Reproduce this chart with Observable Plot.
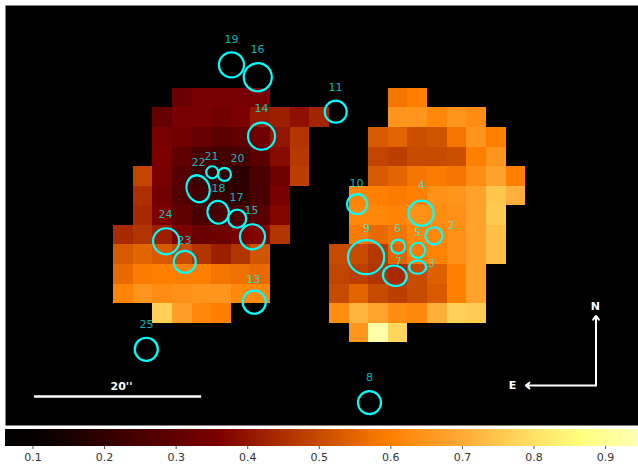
<!DOCTYPE html>
<html>
<head>
<meta charset="utf-8">
<script src="https://cdn.jsdelivr.net/npm/d3@7"></script>
<script src="https://cdn.jsdelivr.net/npm/@observablehq/plot@0.6"></script>
<style>
html,body{margin:0;padding:0;background:#fff;}
svg{display:block;background:#fff;}
</style>
</head>
<body>
<div id="chart"></div>
<script>
// Pixel map: [row, first column, values...]
const cellRuns = [
  [0, 3, [.32,.35,.35,.35,.35]],
  [0, 14, [.58,.60]],
  [1, 2, [.31,.35,.35,.34,.36,.41,.42,.39,.43]],
  [1, 14, [.65,.65,.62,.65,.63]],
  [2, 2, [.35,.34,.31,.29,.30,.33,.40,.46]],
  [2, 13, [.53,.55,.51,.52,.58,.65,.60]],
  [3, 2, [.36,.30,.25,.24,.25,.29,.38,.47]],
  [3, 13, [.49,.48,.50,.50,.51,.60,.65]],
  [4, 1, [.49,.35,.28,.22,.20,.19,.25,.33,.48]],
  [4, 13, [.53,.55,.58,.59,.58,.63,.68,.60]],
  [5, 1, [.45,.34,.27,.24,.21,.20,.25,.35]],
  [5, 12, [.61,.60,.59,.60,.64,.65,.68,.75,.71]],
  [6, 1, [.44,.36,.30,.25,.25,.26,.29,.37]],
  [6, 12, [.62,.62,.61,.64,.63,.64,.68,.76]],
  [7, 0, [.44,.46,.42,.36,.32,.33,.36,.37,.46]],
  [7, 12, [.59,.56,.58,.62,.62,.64,.68,.74]],
  [8, 0, [.53,.55,.53,.50,.46,.42,.46,.52]],
  [8, 11, [.50,.50,.47,.55,.59,.61,.64,.68,.74]],
  [9, 0, [.56,.59,.60,.60,.60,.58,.57,.56]],
  [9, 11, [.49,.48,.46,.44,.50,.54,.60,.68]],
  [10, 0, [.61,.65,.63,.64,.65,.65,.62,.62]],
  [10, 11, [.50,.55,.50,.48,.50,.53,.60,.68]],
  [11, 2, [.77,.67,.62,.60]],
  [11, 11, [.63,.72,.68,.63,.62,.71,.77,.76]],
  [12, 12, [.65,.93,.78]]
];

// Colour map stops
const colorValues = [0.0616, 0.12, 0.36, 0.50, 0.60, 0.70, 0.80, 0.87, 0.9446];
const colorStops = ["#000000","#0a0000","#7d0000","#c64a00","#ff8000","#ffaa37","#ffe164","#ffff80","#ffffb4"];
const barTicks = [0.1,0.2,0.3,0.4,0.5,0.6,0.7,0.8,0.9];

// Apertures (map column, map row, radius in arcsec, axis ratio, tilt in degrees)
const sourceIds = ["19","16","14","11","21","20","22","18","17","15","24","23","13","25","10","4","2","6","5","3","7","9","8"];
const sourceCol = [6.01,7.35,7.54,11.32,5.03,5.65,4.31,5.33,6.30,7.08,2.68,3.63,7.17,1.67,12.41,15.67,16.32,14.50,15.50,15.49,14.33,12.87,13.04];
const sourceRow = [-1.19,-0.56,2.45,1.20,4.29,4.40,5.13,6.33,6.66,7.58,7.81,8.86,10.92,13.32,5.92,6.38,7.53,8.08,8.27,9.13,9.57,8.62,16.04];
const sourceRadius = [1.5,1.68,1.62,1.32,.72,.78,1.5,1.32,1.08,1.5,1.56,1.32,1.38,1.38,1.2,1.5,1.02,.84,.9,.9,1.32,2.1,1.38];
const sourceRatio = [1,1,1,1,1,1,1.1,1.04,1,1,1,1,1,1,1,1,1,1,1,.88,.92,.97,1];
const sourceTilt = [0,0,0,0,0,0,-20,-20,0,0,0,0,0,0,0,0,0,0,0,0,15,0,0];
const labelCol = [6.01,7.34,7.54,11.31,4.99,6.32,4.33,5.35,6.27,7.03,2.65,3.62,7.13,1.68,12.38,15.69,17.22,14.47,15.49,16.2,14.52,12.89,13.04];
const labelRow = [-2.48,-1.97,1.04,-0.04,3.48,3.59,3.79,5.12,5.58,6.24,6.44,7.77,9.76,12.06,4.86,4.96,7.0,7.16,7.36,8.95,8.84,7.16,14.76];

// Annotations
const scaleBar = [{x1:-4.02, x2:4.49, y:15.73}];
const scaleLabel = [{x:.41, y:15.2, text:"20''"}];
const compassArrows = [
  {x1:24.58, y1:15.17, x2:24.58, y2:11.62},
  {x1:24.58, y1:15.17, x2:21.0, y2:15.17}
];
const compassLabels = [
  {x:24.55, y:11.14, text:"N"},
  {x:20.33, y:15.17, text:"E"}
];

const cells = cellRuns.flatMap(([row, start, values]) =>
  values.map((v, i) => ({col: start + i, row, v})));
const sources = sourceIds.map((id, i) => ({
  id, col: sourceCol[i], row: sourceRow[i], radius: sourceRadius[i],
  ratio: sourceRatio[i], tilt: sourceTilt[i],
  labelCol: labelCol[i], labelRow: labelRow[i]
}));

const colorScale = {type:"linear", domain: colorValues, range: colorStops, clamp:true};
const font = "'DejaVu Sans', sans-serif";

// Turn the round dots into the slightly elongated apertures
function stretchDots(index, scales, values, dimensions, context, next) {
  const g = next(index, scales, values, dimensions, context);
  d3.select(g).selectAll("circle").each(function(_, k) {
    const s = sources[index[k]];
    const c = d3.select(this), cx = +c.attr("cx"), cy = +c.attr("cy");
    c.attr("transform", `translate(${cx},${cy}) rotate(${s.tilt}) scale(${1/s.ratio},${s.ratio}) translate(${-cx},${-cy})`);
  });
  return g;
}

const map = Plot.plot({
  width: 638, height: 428,
  marginLeft: 5, marginRight: 0, marginTop: 5, marginBottom: 3,
  style: {fontFamily: font, background: "#fff"},
  x: {domain: [-5.502, 26.745], axis: null},
  y: {domain: [17.21, -4.22], axis: null},
  color: colorScale,
  r: {type:"linear", domain:[0,2], range:[0,16.7]},
  marks: [
    Plot.frame({fill:"#000", stroke:"none"}),
    Plot.rect(cells, {x1:"col", x2:d=>d.col+1, y1:"row", y2:d=>d.row+1, fill:"v", inset:0, shapeRendering:"crispEdges"}),
    Plot.dot(sources, {x:"col", y:"row", r:"radius", fill:"none", stroke:"#00ffff", strokeWidth:2.2, render: stretchDots}),
    Plot.text(sources, {x:"labelCol", y:"labelRow", text:"id", fill:"#00ffff", fillOpacity:.72, fontSize:11}),
    Plot.ruleY(scaleBar, {x1:"x1", x2:"x2", y:"y", stroke:"#fff", strokeWidth:2.5}),
    Plot.text(scaleLabel, {x:"x", y:"y", text:"text", fill:"#fff", fontSize:11, fontWeight:"bold"}),
    Plot.arrow(compassArrows, {x1:"x1", y1:"y1", x2:"x2", y2:"y2", stroke:"#fff", strokeWidth:2, headLength:3.5, headAngle:75, bend:0}),
    Plot.text(compassLabels, {x:"x", y:"y", text:"text", fill:"#fff", fontSize:11, fontWeight:"bold"})
  ]
});

// Colour bar: one narrow rect per step of the same colour scale
const barMin = colorValues[0], barMax = colorValues[colorValues.length - 1];
const barSteps = d3.range(0, 632).map(i => ({
  a: barMin + (barMax - barMin) * i / 632,
  b: barMin + (barMax - barMin) * (i + 1) / 632
}));
const bar = Plot.plot({
  width: 638, height: 40,
  marginLeft: 5, marginRight: 1, marginTop: 1, marginBottom: 22,
  style: {fontFamily: font, fontSize: "11px", background: "#fff", color: "#333"},
  x: {domain: [barMin, barMax], label: null},
  y: {domain: [0,1], axis: null},
  color: colorScale,
  marks: [
    Plot.rect(barSteps, {x1:"a", x2:"b", y1:0, y2:1, fill:d=>(d.a+d.b)/2, inset:0, shapeRendering:"crispEdges"}),
    Plot.axisX({ticks: barTicks, tickFormat: d3.format(".1f"), tickSize: 3, tickPadding: 4, label: null, fontSize: 11, fill:"#333", stroke:"#555"})
  ]
});

const host = document.getElementById("chart");
host.append(map, bar);
</script>
</body>
</html>
